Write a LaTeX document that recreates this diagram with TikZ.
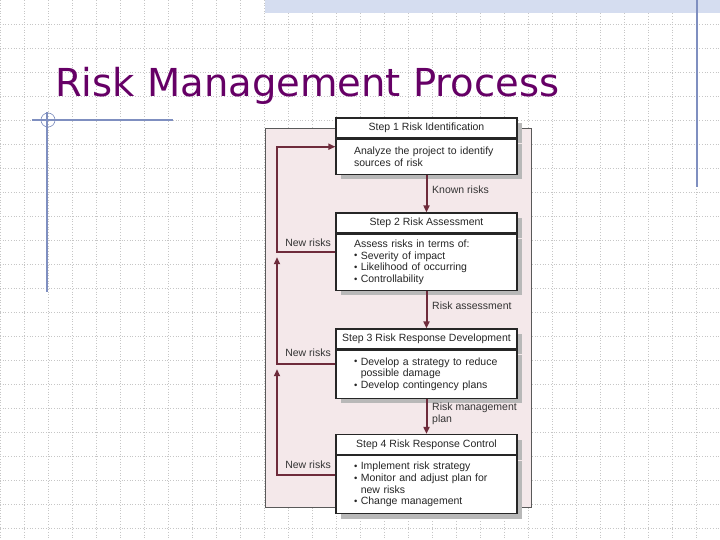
\documentclass[tikz,border=0pt]{standalone}
\usepackage{fontspec}
\setmainfont{Liberation Sans}
\newfontfamily\titlefont{DejaVu Sans}
\usetikzlibrary{arrows.meta,positioning,shadows}
\definecolor{plum}{HTML}{660066}
\definecolor{wine}{HTML}{6E2B3B}
\definecolor{blush}{HTML}{F4E8EA}
\definecolor{slate}{HTML}{7F8FC0}
\definecolor{band}{HTML}{D5DDF0}
\newcommand{\dotitem}{\raisebox{0.3pt}{\scalebox{0.9}{\textbullet}}\ }

\begin{document}
\begin{tikzpicture}[x=1pt,y=-1pt,>={Triangle[length=7pt,width=6pt]},
 font=\fontsize{10.5}{11.7}\selectfont,
 gridline/.style={gray!45,dotted,line width=0.7pt},
 rule/.style={slate,line width=1.1pt},
 shade/.style={drop shadow={shadow xshift=5pt,shadow yshift=-5pt,fill=black!28,opacity=1}},
 head/.style={shade,draw=black!85,line width=1.2pt,fill=white,text=black!85,
   minimum width=181pt,minimum height=20pt,inner sep=0pt},
 body/.style={shade,draw=black!85,line width=1.2pt,fill=white,text=black!85,
   text width=145pt,inner xsep=18pt,inner ysep=0pt,align=left},
 flow/.style={wine,line width=2pt,->},
 tag/.style={text=black!80,align=left,inner sep=0pt}]
\useasboundingbox (0,0) rectangle (720,540);
\fill[white] (0,0) rectangle (720,540);
\foreach \g in {0,24,...,720} \draw[gridline] (\g,0) -- (\g,540);
\foreach \g in {24,48,...,528} \draw[gridline] (0,\g) -- (720,\g);
\fill[band] (265,0) rectangle (720,13);
\draw[rule] (697,0) -- (697,187);
\draw[rule] (47,112) -- (47,292);
\draw[rule] (32,120) -- (173,120);
\draw[slate,line width=0.6pt] (48,120) circle (7);
\node[anchor=base west,inner sep=0pt,text=plum,font=\titlefont\fontsize{38.5}{44}\selectfont]
 (title) at (55,97) {Risk Management Process};

\draw[black!65,line width=0.9pt,fill=blush] (265,128) rectangle (531,507);

\node[head] (s1h) at (426.5,128) {Step 1 Risk Identification};
\node[body,below=0pt of s1h,minimum height=35pt] (s1) {Analyze the project to identify\\
sources of risk};
\node[head] (s2h) at (426.5,223) {Step 2 Risk Assessment};
\node[body,below=0pt of s2h,minimum height=56pt] (s2) {Assess risks in terms of:\\
\dotitem Severity of impact\\\dotitem Likelihood of occurring\\\dotitem Controllability};
\node[head] (s3h) at (426.5,339) {Step 3 Risk Response Development};
\node[body,below=0pt of s3h,minimum height=48pt] (s3) {\dotitem Develop a strategy to reduce\\
\phantom{\dotitem}possible damage\\\dotitem Develop contingency plans};
\node[head] (s4h) at (426.5,444.5) {Step 4 Risk Response Control};
\node[body,below=0pt of s4h,minimum height=58pt] (s4) {\dotitem Implement risk strategy\\
\dotitem Monitor and adjust plan for\\\phantom{\dotitem}new risks\\\dotitem Change management};

\node[tag,anchor=west] (k1) at (432,190) {Known risks};
\node[tag,anchor=west] (k2) at (432,306) {Risk assessment};
\node[tag,anchor=west] (k3) at (432,414) {Risk management\\plan};
\node[tag,anchor=east] (n2) at (331,243) {New risks};
\node[tag,anchor=east] (n3) at (331,353) {New risks};
\node[tag,anchor=east] (n4) at (331,465) {New risks};

\draw[flow] (s1.south) -- (s2h.north);
\draw[flow] (s2.south) -- (s3h.north);
\draw[flow] (s3.south) -- (s4h.north);

\coordinate (rail) at (277,0);
\coordinate (i1) at ([yshift=10pt]s1.west);
\coordinate (o2) at ([yshift=10pt]s2.west);
\coordinate (o3) at ([yshift=10pt]s3.west);
\coordinate (o4) at ([yshift=10pt]s4.west);
\draw[flow] (o2) -| (rail |- i1) -- (i1);
\draw[flow,shorten >=5pt] (o3) -| (rail |- o2);
\draw[flow,shorten >=5pt] (o4) -| (rail |- o3);
\end{tikzpicture}
\end{document}
